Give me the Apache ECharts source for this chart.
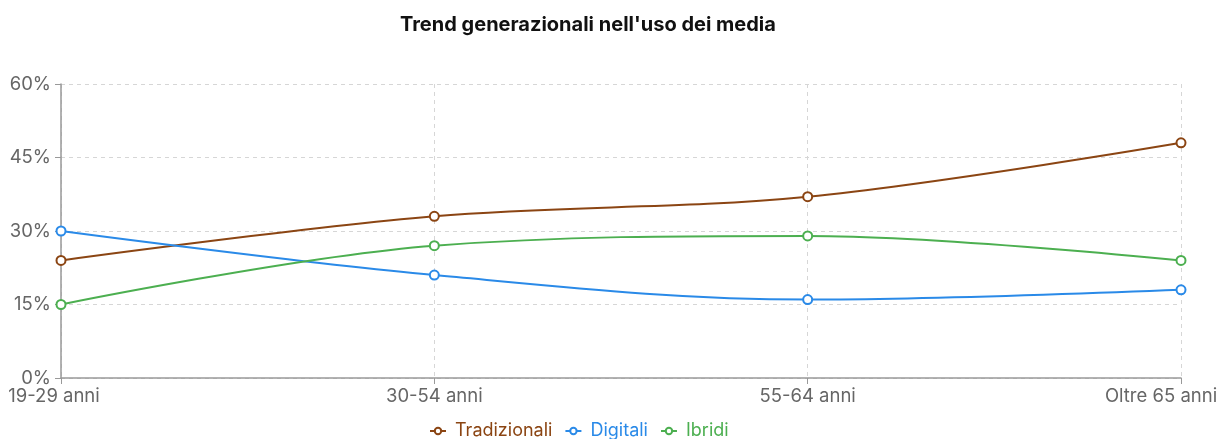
<!DOCTYPE html>
<html>
<head>
<meta charset="utf-8">
<script src="https://cdn.jsdelivr.net/npm/echarts@6/dist/echarts.min.js"></script>
<style>
  html, body { margin: 0; padding: 0; background: #fff; }
  #chart { width: 1223px; height: 439px; }
</style>
</head>
<body>
<div id="chart"></div>
<script>
const categories = ['19-29 anni', '30-54 anni', '55-64 anni', 'Oltre 65 anni'];
const tradizionali = [24, 33, 37, 48];
const digitali = [30, 21, 16, 18];
const ibridi = [15, 27, 29, 24];
const yTicks = [0, 15, 30, 45, 60];

const font = 'Inter, "Helvetica Neue", Helvetica, Arial, sans-serif';
const colors = {
    tradizionali: '#8b4513',
    digitali: '#2a8ae8',
    ibridi: '#4caf50'
};
const labelSize = 18.5;

function lineSeries(name, data, color) {
    return {
        name: name,
        type: 'line',
        data: data,
        smooth: 0.35,
        symbol: 'emptyCircle',
        symbolSize: 9,
        color: color,
        lineStyle: { width: 2, color: color },
        itemStyle: { color: color, borderWidth: 2 }
    };
}

const chart = echarts.init(document.getElementById('chart'));
const options = {
    animation: false,
    title: {
        text: "Trend generazionali nell'uso dei media",
        left: 395,
        top: 10,
        textStyle: { fontFamily: font, fontSize: 20, fontWeight: 'bold', color: '#111' }
    },
    legend: {
        bottom: -6,
        left: 424,
        itemWidth: 16,
        itemHeight: 8,
        itemGap: 12,
        data: [
            { name: 'Tradizionali', textStyle: { color: colors.tradizionali } },
            { name: 'Digitali', textStyle: { color: colors.digitali } },
            { name: 'Ibridi', textStyle: { color: colors.ibridi } }
        ],
        textStyle: { fontFamily: font, fontSize: 18, padding: [0, 0, 0, 4] }
    },
    grid: { left: 61, right: 42, top: 84, bottom: 61, containLabel: false },
    xAxis: {
        type: 'category',
        data: categories,
        boundaryGap: false,
        axisLine: { lineStyle: { color: '#999', width: 1.5 } },
        axisTick: { show: true, alignWithLabel: true, length: 6, lineStyle: { color: '#999' } },
        splitLine: { show: true, lineStyle: { type: [4, 4], color: '#d6d6d6' } },
        axisLabel: {
            fontFamily: font, fontSize: labelSize, color: '#666', margin: 9,
            formatter: (v, i) => i === 0 ? '{f|' + v + '}' : (i === categories.length - 1 ? '{l|' + v + '}' : v),
            rich: {
                f: { fontFamily: font, fontSize: labelSize, color: '#666', padding: [0, 14, 0, 0] },
                l: { fontFamily: font, fontSize: labelSize, color: '#666', padding: [0, 40, 0, 0] }
            }
        }
    },
    yAxis: {
        type: 'value',
        min: yTicks[0],
        max: yTicks[yTicks.length - 1],
        interval: yTicks[1] - yTicks[0],
        axisLine: { show: true, lineStyle: { color: '#999', width: 1.5 } },
        axisTick: { show: true, length: 6, lineStyle: { color: '#999' } },
        splitLine: { show: true, lineStyle: { type: [4, 4], color: '#d6d6d6' } },
        axisLabel: { fontFamily: font, fontSize: labelSize, color: '#666', margin: 10, formatter: '{value}%' }
    },
    series: [
        lineSeries('Tradizionali', tradizionali, colors.tradizionali),
        lineSeries('Digitali', digitali, colors.digitali),
        lineSeries('Ibridi', ibridi, colors.ibridi)
    ]
};
chart.setOption(options);
</script>
</body>
</html>
